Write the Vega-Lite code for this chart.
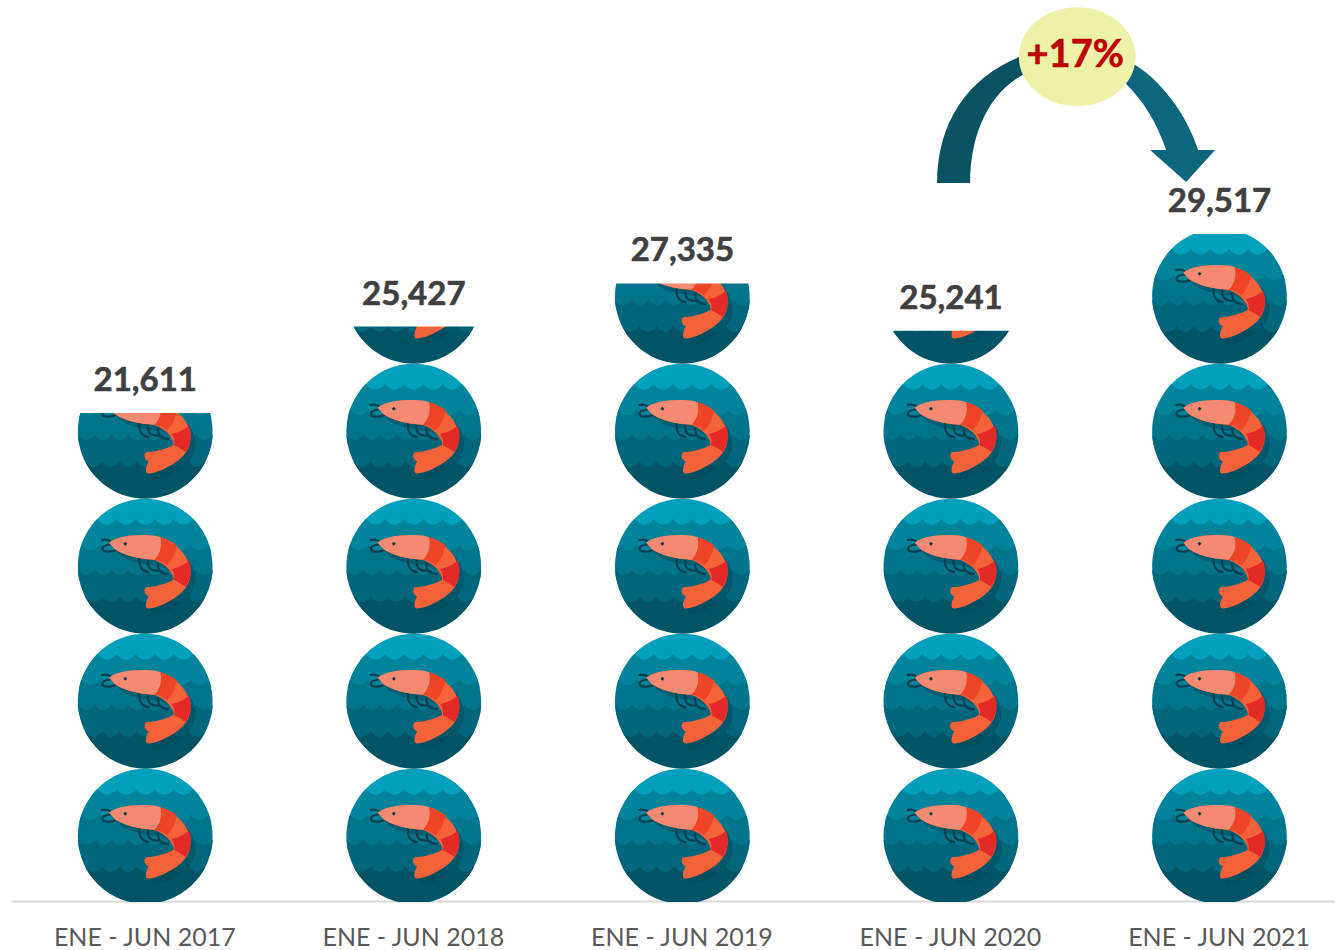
{"$schema":"https://vega.github.io/schema/vega-lite/v6.json","width":1324,"height":902,"autosize":{"type":"none"},"padding":{"left":11,"top":0,"right":0,"bottom":48},"background":"white","config":{"view":{"stroke":null}},
"datasets":{
"circles":[{"year":2017,"value":2908},{"year":2017,"value":8874},{"year":2017,"value":14839},{"year":2017,"value":20805},
{"year":2018,"value":2908},{"year":2018,"value":8874},{"year":2018,"value":14839},{"year":2018,"value":20805},{"year":2018,"value":26770},
{"year":2019,"value":2908},{"year":2019,"value":8874},{"year":2019,"value":14839},{"year":2019,"value":20805},{"year":2019,"value":26770},
{"year":2020,"value":2908},{"year":2020,"value":8874},{"year":2020,"value":14839},{"year":2020,"value":20805},{"year":2020,"value":26770},
{"year":2021,"value":2908},{"year":2021,"value":8874},{"year":2021,"value":14839},{"year":2021,"value":20805},{"year":2021,"value":26770}],
"totals":[{"year":2017,"value":21611},{"year":2018,"value":25427},{"year":2019,"value":27335},{"year":2020,"value":25241},{"year":2021,"value":29517}],
"arcLeft":[{"year":2020.183,"value":34556}],
"arcRight":[{"year":2020.816,"value":34556}],
"badge":[{"year":2020.47,"value":37353,"label":"+17%"}]
},
"encoding":{
"x":{"field":"year","type":"quantitative","scale":{"domain":[2016.5,2021.43],"nice":false,"zero":false},"axis":{"values":[2017,2018,2019,2020,2021],"labelExpr":"'ENE - JUN ' + datum.value","labelFontSize":25,"labelFont":"Lato","labelColor":"#595959","labelLimit":400,"labelOffset":-1,"domainColor":"#d9d9d9","domainWidth":2,"ticks":false,"grid":false,"title":null,"labelPadding":24,"labelOverlap":false,"labelFlush":false,"offset":-1}},
"y":{"field":"value","type":"quantitative","scale":{"domain":[0,39859],"nice":false},"axis":null}
},
"layer":[
{"data":{"name":"circles"},"mark":{"type":"point","shape":"M-.8 -.6 A1 1 0 0 1 .8 -.6 Z","size":18171,"filled":true,"opacity":1,"color":"#00A0BD","strokeWidth":0,"clip":true}},
{"data":{"name":"circles"},"mark":{"type":"point","shape":"M-.71 -.7 q.142 .17 .284 0 q.142 .17 .284 0 q.142 .17 .284 0 q.142 .17 .284 0 q.142 .17 .284 0 A1 1 0 0 1 .98 -.2 L-.98 -.2 A1 1 0 0 1 -.71 -.7 Z","size":18171,"filled":true,"opacity":1,"color":"#00849C","strokeWidth":0,"clip":true}},
{"data":{"name":"circles"},"mark":{"type":"point","shape":"M-.947 -.32 q.135 .17 .27 0 q.135 .17 .27 0 q.135 .17 .27 0 q.135 .17 .27 0 q.135 .17 .27 0 q.135 .17 .27 0 q.135 .17 .27 0 A1 1 0 0 1 .98 .2 L-.98 .2 A1 1 0 0 1 -.947 -.32 Z","size":18171,"filled":true,"opacity":1,"color":"#00758C","strokeWidth":0,"clip":true}},
{"data":{"name":"circles"},"mark":{"type":"point","shape":"M-.999 .05 q.125 .17 .25 0 q.125 .17 .25 0 q.125 .17 .25 0 q.125 .17 .25 0 q.125 .17 .25 0 q.125 .17 .25 0 q.125 .17 .25 0 q.125 .17 .25 0 A1 1 0 0 1 .8 .6 L-.8 .6 A1 1 0 0 1 -.999 .05 Z","size":18171,"filled":true,"opacity":1,"color":"#00667C","strokeWidth":0,"clip":true}},
{"data":{"name":"circles"},"mark":{"type":"point","shape":"M-.895 .445 q.128 .17 .256 0 q.128 .17 .256 0 q.128 .17 .256 0 q.128 .17 .256 0 q.128 .17 .256 0 q.128 .17 .256 0 q.128 .17 .256 0 A1 1 0 0 1 -.895 .445 Z","size":18171,"filled":true,"opacity":1,"color":"#005466","strokeWidth":0,"clip":true}},
{"data":{"name":"circles"},"mark":{"type":"point","shape":"M-.535 -.347 C-.45 -.43 -.2 -.47 .05 -.46 C.25 -.46 .45 -.33 .56 -.2 C.68 -.05 .72 .15 .6 .32 C.5 .46 .3 .56 .15 .61 C.08 .63 .02 .64 .01 .6 C0 .56 .02 .5 .05 .446 C-.01 .43 -.03 .36 .01 .312 C.1 .31 .3 .28 .421 .198 C.42 .12 .33 -.02 .149 -.089 C0 -.1 -.25 -.13 -.446 -.248 Z","size":18171,"filled":true,"opacity":0.55,"color":"#004A5C","strokeWidth":0,"xOffset":5,"yOffset":6,"clip":true}},
{"data":{"name":"circles"},"mark":{"type":"point","shape":"M-.084 -.124 Q-.11 .07 .06 .09 M.04 -.099 Q.025 .09 .208 .064 M.188 -.05 Q.18 .12 .356 .114 M-.653 -.386 Q-.56 -.41 -.5 -.36 M-.505 -.322 Q-.68 -.31 -.62 -.225 Q-.5 -.19 -.381 -.272","size":18171,"filled":false,"opacity":1,"stroke":"#0B3F4F","strokeWidth":2.2,"clip":true}},
{"data":{"name":"circles"},"mark":{"type":"point","shape":"M-.535 -.347 C-.45 -.43 -.2 -.47 .05 -.46 C.25 -.46 .45 -.33 .56 -.2 C.68 -.05 .72 .15 .6 .32 C.5 .46 .3 .56 .15 .61 C.08 .63 .02 .64 .01 .6 C0 .56 .02 .5 .05 .446 C-.01 .43 -.03 .36 .01 .312 C.1 .31 .3 .28 .421 .198 C.42 .12 .33 -.02 .149 -.089 C0 -.1 -.25 -.13 -.446 -.248 Z","size":18171,"filled":true,"opacity":1,"color":"#F4623A","strokeWidth":0,"clip":true}},
{"data":{"name":"circles"},"mark":{"type":"point","shape":"M-.535 -.347 C-.45 -.43 -.2 -.47 .05 -.46 C.12 -.46 .18 -.45 .23 -.43 C.25 -.35 .25 -.2 .14 -.1 C0 -.1 -.25 -.13 -.446 -.248 Z","size":18171,"filled":true,"opacity":1,"color":"#F58A72","strokeWidth":0,"clip":true}},
{"data":{"name":"circles"},"mark":{"type":"point","shape":"M.223 -.43 C.32 -.41 .4 -.36 .47 -.31 C.45 -.2 .4 -.08 .322 -.015 C.27 -.06 .2 -.09 .139 -.1 C.24 -.2 .25 -.33 .223 -.43 Z","size":18171,"filled":true,"opacity":1,"color":"#EE4427","strokeWidth":0,"clip":true}},
{"data":{"name":"circles"},"mark":{"type":"point","shape":"M.645 -.08 C.69 .02 .7 .15 .6 .31 C.55 .28 .5 .24 .43 .21 C.44 .15 .43 .09 .39 .04 C.48 .03 .58 -.02 .645 -.08 Z","size":18171,"filled":true,"opacity":1,"color":"#E32A27","strokeWidth":0,"clip":true}},
{"data":{"name":"circles"},"mark":{"type":"point","shape":"M-.327 -.332 L-.297 -.362 L-.267 -.332 L-.297 -.302 Z","size":18171,"filled":true,"opacity":1,"color":"#0B3F4F","strokeWidth":0,"clip":true}},
{"data":{"name":"totals"},"mark":{"type":"rule","color":"white","strokeWidth":152},"encoding":{"y2":{"datum":39000}}},
{"data":{"name":"totals"},"mark":{"type":"text","font":"Lato","fontWeight":"bold","fontSize":33,"color":"#404040","stroke":"#404040","strokeWidth":0.6,"dy":-32,"baseline":"middle"},"encoding":{"text":{"field":"value","type":"quantitative","format":","}}},
{"data":{"name":"arcLeft"},"mark":{"type":"point","shape":"M-.63 .63 C-.63 0 -.3 -.45 .24 -.65 L.24 -.46 C-.15 -.25 -.3 .2 -.3 .63 Z","size":40000,"filled":true,"opacity":1,"color":"#0A5263","strokeWidth":0}},
{"data":{"name":"arcRight"},"mark":{"type":"point","shape":"M-.4 -.58 C-.1 -.42 .17 -.05 .28 .3 L.45 .3 L.16 .62 L-.2 .3 L-.04 .3 C-.12 .05 -.27 -.2 -.45 -.37 Z","size":40000,"filled":true,"opacity":1,"color":"#0C667D","strokeWidth":0}},
{"data":{"name":"badge"},"mark":{"type":"point","shape":"M-1 0 C-1 -.467 -.552 -.846 0 -.846 C.552 -.846 1 -.467 1 0 C1 .467 .552 .846 0 .846 C-.552 .846 -1 .467 -1 0 Z","size":13619,"filled":true,"opacity":1,"color":"#EEF2A9","strokeWidth":0}},
{"data":{"name":"badge"},"mark":{"type":"text","font":"Lato","fontWeight":"bold","fontSize":38,"color":"#C00000","stroke":"#C00000","strokeWidth":0.6,"baseline":"middle","dx":-2,"dy":-1},"encoding":{"text":{"field":"label","type":"nominal"}}}
]}
